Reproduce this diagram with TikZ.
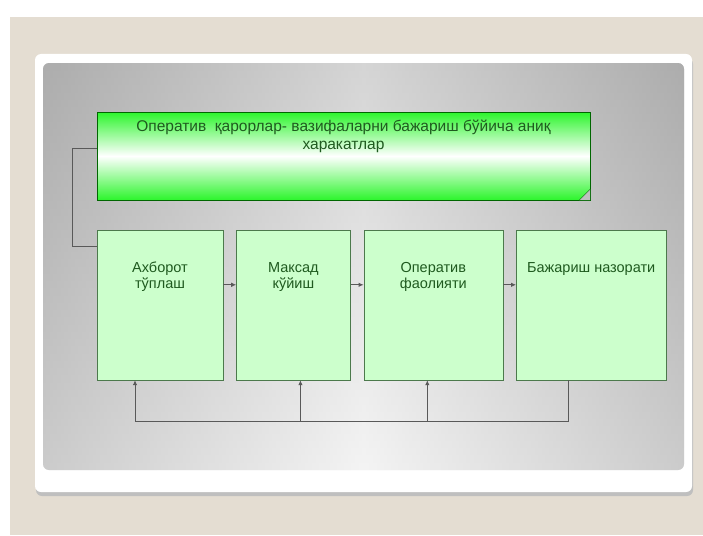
\documentclass[tikz,border=0pt]{standalone}
\usepackage{fontspec}
\setsansfont{Liberation Sans}
\usetikzlibrary{positioning,arrows.meta}

\definecolor{beige}{HTML}{E4DDD2}
\definecolor{textgreen}{HTML}{1F5A1F}
\definecolor{boxgreen}{HTML}{CCFFCC}
\definecolor{brightgreen}{HTML}{2CF52C}

\begin{document}
\begin{tikzpicture}[x = 1pt, y = -1pt, node distance = 13pt,
    every node/.style = {font = \sffamily\fontsize{14.5}{16}\selectfont, text = textgreen},
    plan/.style = {draw = green!40!black, minimum width = 493pt, minimum height = 88pt,
        inner sep = 0pt, top color = brightgreen, bottom color = brightgreen, middle color = white},
    stage/.style = {draw = green!25!black!70, fill = boxgreen, minimum height = 150pt, inner sep = 0pt},
    stagetxt/.style = {anchor = north, yshift = -29pt, align = center, text = textgreen},
    link/.style = {draw = black!65, line width = 0.9pt},
    tip/.style = {-{Latex[length = 5pt, width = 4.5pt]}}]

    % background and slide
    \useasboundingbox (0,0) rectangle (703,535);
    \fill[beige] (10,17) rectangle (703,535);
    \fill[black!25, rounded corners = 6pt] (36,58) rectangle (693,496);
    \fill[white, rounded corners = 6pt] (35,54) rectangle (692,492);
    \shade[rounded corners = 6pt, top color = black!30, bottom color = black!8] (43,63) rectangle (684,470);
    \shade[rounded corners = 6pt, left color = black!35, right color = black!35, middle color = white,
        opacity = 0.45] (43,63) rectangle (684,470);

    % top block
    \node[plan, label = {[anchor = north, yshift = -5pt, align = center, text = textgreen,
        font = \sffamily\fontsize{15.5}{18}\selectfont]north:
        Оператив\ \ қарорлар- вазифаларни бажариш бўйича аниқ\\харакатлар}]
        (plan) at (343.5,156) {};
    \fill[black!25] (plan.south east) -- ++(-11pt,0) -- ++(11pt,11pt) -- cycle;
    \draw[green!40!black] ([yshift = 11pt]plan.south east) -- ([xshift = -11pt]plan.south east);

    % stages
    \node[stage, minimum width = 126pt, label = {[stagetxt]north:Ахборот\\тўплаш}] (box1) at (160,305) {};
    \node[stage, minimum width = 114pt, right = of box1, label = {[stagetxt]north:Максад\\кўйиш}] (box2) {};
    \node[stage, minimum width = 139pt, right = of box2, label = {[stagetxt]north:Оператив\\фаолияти}] (box3) {};
    \node[stage, minimum width = 150pt, right = of box3, label = {[stagetxt]north:Бажариш назорати}] (box4) {};

    % flow
    \draw[link] ([yshift = 8pt]plan.west) -- ++(-24pt,0) |- ([yshift = -17pt]box1.north west);
    \foreach \a/\b in {box1/box2, box2/box3, box3/box4}
        \draw[link, tip] ([yshift = -55pt]\a.north east) -- ([yshift = -55pt]\b.north west);

    % feedback
    \coordinate (in1) at ([xshift = -25pt]box1.south);
    \coordinate (in2) at ([xshift = 7pt]box2.south);
    \coordinate (in3) at ([xshift = -6pt]box3.south);
    \coordinate (out4) at ([xshift = -23pt]box4.south);
    \coordinate (bus) at ([yshift = -41pt]out4);
    \draw[link, tip] (out4) -- (bus) -| (in1);
    \draw[link, tip] (bus -| in2) -- (in2);
    \draw[link, tip] (bus -| in3) -- (in3);
\end{tikzpicture}
\end{document}
